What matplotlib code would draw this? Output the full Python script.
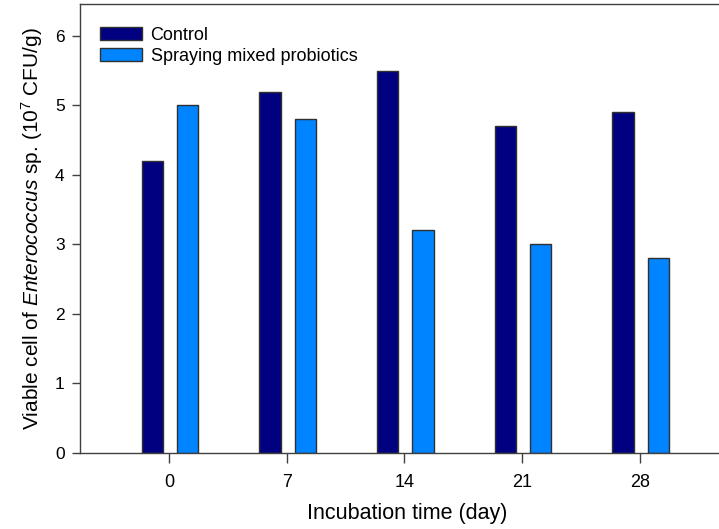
import numpy as np
import matplotlib
matplotlib.use('Agg')
import matplotlib.pyplot as plt

plt.rcParams['font.family'] = ['Liberation Sans', 'DejaVu Sans']
plt.rcParams['mathtext.fontset'] = 'custom'
plt.rcParams['mathtext.rm'] = 'Liberation Sans'
plt.rcParams['mathtext.it'] = 'Liberation Sans:italic'

# Data
days = [0, 7, 14, 21, 28]
control = [4.2, 5.2, 5.5, 4.7, 4.9]
spraying = [5.0, 4.8, 3.2, 3.0, 2.8]
labels = ['Control', 'Spraying mixed probiotics']

W, H = 719, 529
fig = plt.figure(figsize=(W / 100, H / 100), dpi=100)
ax = fig.add_axes([80 / W, (H - 452.7) / H, (734 - 80) / W, (452.7 - 4) / H])

x = np.array(days)
bw = 1.28
ax.bar(x - 1.0, control, width=bw, color='#000080', edgecolor='#303030',
       linewidth=1.0, label=labels[0])
ax.bar(x + 1.1, spraying, width=bw, color='#0084FF', edgecolor='#303030',
       linewidth=1.0, label=labels[1])

ax.set_xlim(-5.3, 33.6)
ax.set_ylim(0, 6.46)
ax.set_xticks(days)
ax.set_yticks(range(0, 7))

for s in ax.spines.values():
    s.set_color('#404040')
    s.set_linewidth(1.0)

ax.tick_params(axis='y', direction='out', length=6, width=1, color='#404040',
               labelsize=12.5, pad=5)
ax.tick_params(axis='x', direction='out', length=7, width=1, color='#404040',
               labelsize=13, pad=8)

ax.set_xlabel('Incubation time (day)', fontsize=15.5, labelpad=9)
ax.set_ylabel('Viable cell of $\\mathit{Enterococcus}$ sp. (10$^{7}$ CFU/g)',
              fontsize=15, labelpad=7)

ax.legend(loc='upper left', bbox_to_anchor=(20 / 654, (452.7 - 27) / 448.7),
          frameon=False, fontsize=13, handlelength=2.3, handleheight=0.72,
          handletextpad=0.5, labelspacing=0.2, borderaxespad=0, borderpad=0)

fig.savefig('out.png', dpi=100)
